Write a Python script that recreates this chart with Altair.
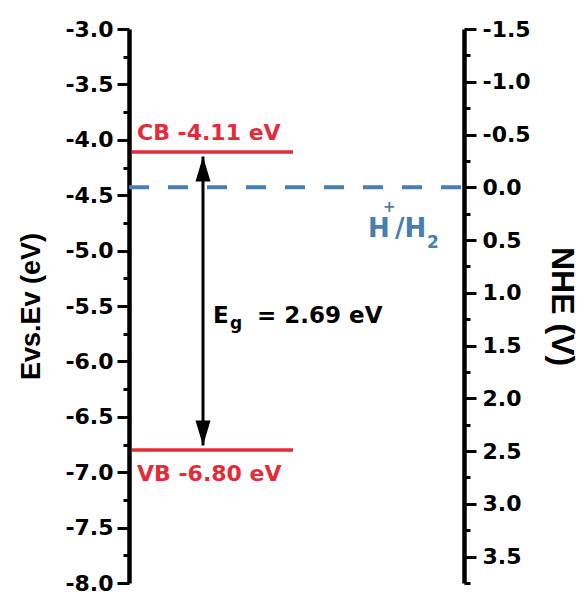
import altair as alt
import pandas as pd

# ---- data ----
levels = ["CB", "VB"]
level_energy = [-4.11, -6.80]
level_labels = ["CB -4.11 eV", "VB -6.80 eV"]
band_gap = 2.69
nhe_ref = [0.0]
energy_domain = [-8.0, -3.0]
nhe_domain = [-1.5, 3.75]
energy_ticks = [round(-3.0 - 0.25 * i, 2) for i in range(21)]
nhe_ticks = [round(-1.5 + 0.25 * i, 2) for i in range(22)]

RED = "#e32b3a"
BLUE = "#4a7db0"
FONT = "DejaVu Sans"
TFONT = "Liberation Sans"

levels_df = pd.DataFrame({"level": levels, "E": level_energy, "label": level_labels})
gap = 0.04
arrow_df = pd.DataFrame({
    "top": [level_energy[0] - gap],
    "bottom": [level_energy[1] + gap],
    "mid": [(level_energy[0] + level_energy[1]) / 2],
    "eg": [f"= {band_gap:.2f} eV"],
})
nhe_df = pd.DataFrame({"V": nhe_ref})

minor_test = "abs(datum.value*2 - round(datum.value*2)) > 0.01"
label_expr = (f"({minor_test}) ? '' : "
              "((datum.value < -0.001 ? '-' : '') + format(abs(datum.value), '.1f'))")


def make_axis(orient, title, ticks, pad, title_size, title_pad):
    return alt.Axis(
        orient=orient, values=ticks, title=title, grid=False,
        titleFont=TFONT, titleFontSize=title_size, titleFontWeight="bold",
        titleColor="black", titlePadding=title_pad,
        labelFont=FONT, labelFontSize=22, labelFontWeight="bold",
        labelColor="black", labelExpr=label_expr, labelPadding=pad,
        labelOverlap=False, labelFlush=False,
        tickSize={"condition": {"test": minor_test, "value": 6}, "value": 12},
        tickWidth=3, tickColor="black",
        domainColor="black", domainWidth=4.5,
    )


left_axis = make_axis("left", "Evs.Ev (eV)", energy_ticks, 4, 27, 19)
right_axis = make_axis("right", "NHE (V)", nhe_ticks, 6, 32, 14)
e_scale = alt.Scale(domain=energy_domain, nice=False, zero=False)
v_scale = alt.Scale(domain=nhe_domain, reverse=True, nice=False, zero=False)


def ey(field):
    return alt.Y(f"{field}:Q", scale=e_scale, axis=left_axis)


def vy(field):
    return alt.Y(f"{field}:Q", scale=v_scale, axis=right_axis)


lvl = alt.Chart(levels_df)
level_lines = lvl.mark_rule(color=RED, strokeWidth=3.5).encode(
    y=ey("E"), x=alt.value(3), x2=alt.value(164))
cb_text = lvl.transform_filter(alt.datum.level == "CB").mark_text(
    font=FONT, fontSize=22, fontWeight="bold", color=RED,
    align="left", baseline="alphabetic", dy=-12).encode(
    y=ey("E"), x=alt.value(8), text="label:N")
vb_text = lvl.transform_filter(alt.datum.level == "VB").mark_text(
    font=FONT, fontSize=22, fontWeight="bold", color=RED,
    align="left", baseline="alphabetic", dy=31).encode(
    y=ey("E"), x=alt.value(8), text="label:N")

arr = alt.Chart(arrow_df)
arrow_line = arr.mark_rule(color="black", strokeWidth=3).encode(
    y=ey("top"), y2="bottom:Q", x=alt.value(74))
head_top = arr.mark_point(
    shape="M 0 0 L 0.6 2 L -0.6 2 Z", filled=True, color="black",
    size=625, opacity=1, strokeWidth=0).encode(y=ey("top"), x=alt.value(74))
head_bot = arr.mark_point(
    shape="M 0 0 L 0.6 -2 L -0.6 -2 Z", filled=True, color="black",
    size=625, opacity=1, strokeWidth=0).encode(y=ey("bottom"), x=alt.value(74))
eg_E = arr.mark_text(font=FONT, fontSize=23, fontWeight="bold", color="black",
                     align="left", baseline="middle", dy=15, text="E").encode(
    y=ey("mid"), x=alt.value(84))
eg_g = arr.mark_text(font=FONT, fontSize=17, fontWeight="bold", color="black",
                     align="left", baseline="middle", dy=23, text="g").encode(
    y=ey("mid"), x=alt.value(101))
eg_val = arr.mark_text(font=FONT, fontSize=23, fontWeight="bold", color="black",
                       align="left", baseline="middle", dy=15).encode(
    y=ey("mid"), x=alt.value(128), text="eg:N")

energy_layer = alt.layer(level_lines, cb_text, vb_text, arrow_line,
                         head_top, head_bot, eg_E, eg_g, eg_val)

nh = alt.Chart(nhe_df)
dash = nh.mark_rule(color=BLUE, strokeWidth=4, strokeDash=[20, 19]).encode(
    y=vy("V"), x=alt.value(0), x2=alt.value(335))
h1 = nh.mark_text(font=FONT, fontSize=26, fontWeight="bold", color=BLUE,
                  align="left", baseline="alphabetic", dy=50, text="H").encode(
    y=vy("V"), x=alt.value(239))
hplus = nh.mark_text(font=FONT, fontSize=15, fontWeight="bold", color=BLUE,
                     align="left", baseline="alphabetic", dy=25, text="+").encode(
    y=vy("V"), x=alt.value(254))
h2 = nh.mark_text(font=FONT, fontSize=26, fontWeight="bold", color=BLUE,
                  align="left", baseline="alphabetic", dy=50, text="/H").encode(
    y=vy("V"), x=alt.value(266))
sub2 = nh.mark_text(font=FONT, fontSize=17, fontWeight="bold", color=BLUE,
                    align="left", baseline="alphabetic", dy=61, text="2").encode(
    y=vy("V"), x=alt.value(298))

nhe_layer = alt.layer(dash, h1, hplus, h2, sub2)

chart = alt.layer(energy_layer, nhe_layer).resolve_scale(y="independent").properties(
    width=335, height=554,
    padding={"left": 129, "top": 29, "right": 118, "bottom": 13},
    autosize=alt.AutoSizeParams(type="none"),
    background="white",
).configure_view(stroke=None)

chart.save("out.html", embed_options={"renderer": "svg", "actions": False})
